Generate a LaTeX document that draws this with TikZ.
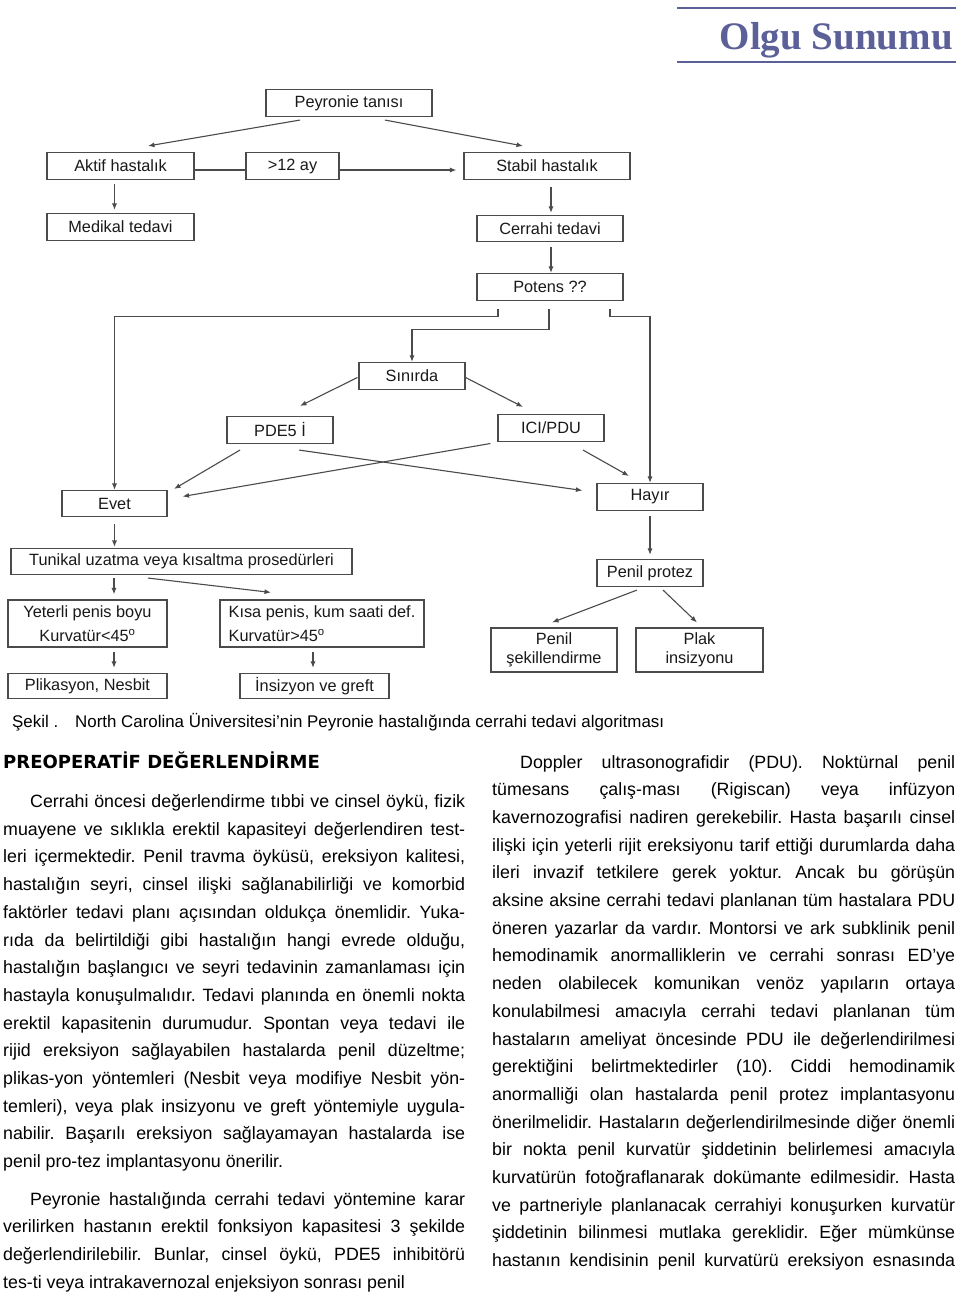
\documentclass[tikz,border=0pt]{standalone}
\usepackage{fontspec}
\setmainfont{Liberation Sans}
\newfontfamily\serifhead{Liberation Serif}
\newfontfamily\widebold{DejaVu Sans}
\usetikzlibrary{calc,positioning,arrows.meta}

\definecolor{olgublue}{RGB}{92,96,152}
\definecolor{boxline}{RGB}{75,75,75}
\definecolor{boxink}{RGB}{25,25,25}

\tikzset{
  flowbox/.style={draw=boxline, line width=1.1pt, inner sep=0pt, minimum height=27pt, text=boxink, font=\fontsize{16.3}{24}\selectfont},
  arr/.style={draw=boxline, line width=1.1pt, -{Latex[length=6.5pt,width=5pt]}},
  link/.style={draw=boxline, line width=1.1pt},
  bodytext/.style={anchor=base west, inner sep=0pt, align=justify, font=\fontsize{17.8}{27.7}\selectfont}
}

\begin{document}
\frenchspacing
\begin{tikzpicture}[x=1pt,y=-1pt]
    \useasboundingbox (0,0) rectangle (960,1293);
    \fill[white] (0,0) rectangle (960,1293);

    % Header
    \draw[olgublue, line width=2.8pt] (677,8) -- (956,8);
    \draw[olgublue, line width=2.8pt] (677,62) -- (956,62);
    \node[anchor=base east, inner sep=0pt, text=olgublue, font=\serifhead\bfseries\fontsize{39}{39}\selectfont] (olgu) at (953,49) {Olgu Sunumu};

    % Draw boxes
    \node[flowbox, minimum width=166pt] (peyronie) at (349,103) {Peyronie tanısı};
    \node[flowbox, minimum width=147pt] (aktif) at (120.5,166) {Aktif hastalık};
    \node[flowbox, minimum width=93pt] (ay) at (292.5,166) {>12 ay};
    \node[flowbox, minimum width=166pt] (stabil) at (547,166) {Stabil hastalık};
    \node[flowbox, minimum width=147pt] (medikal) at (120.5,227) {Medikal tedavi};
    \node[flowbox, minimum width=146pt, minimum height=26pt] (cerrahi) at (550,228.5) {Cerrahi tedavi};
    \node[flowbox, minimum width=146pt] (potens) at (550,287) {Potens ??};
    \node[flowbox, minimum width=106pt] (sinirda) at (412,376) {Sınırda};
    \node[flowbox, minimum width=106pt] (pde) at (280,430) {PDE5 İ};
    \node[flowbox, minimum width=106pt] (ici) at (551,428) {ICI/PDU};
    \node[flowbox, minimum width=105pt, minimum height=26pt] (evet) at (114.5,503.5) {Evet};
    \node[flowbox, minimum width=106pt] (hayir) at (650,497) {Hayır};
    \node[flowbox, minimum width=341pt, minimum height=26pt] (tunikal) at (181.5,561.5) {Tunikal uzatma veya kısaltma prosedürleri};
    \node[flowbox, minimum width=159pt, minimum height=47pt, align=center] (yeterli) at (87.5,623.5) {Yeterli penis boyu\\Kurvatür<45\textsuperscript{o}};
    \node[flowbox, minimum width=204pt, minimum height=47pt, align=left] (kisa) at (322,623.5) {Kısa penis, kum saati def.\\Kurvatür>45\textsuperscript{o}};
    \node[flowbox, minimum width=159pt, minimum height=25pt] (plikasyon) at (87.5,686) {Plikasyon, Nesbit};
    \node[flowbox, minimum width=149pt, minimum height=25pt] (insizyon) at (314.5,686) {İnsizyon ve greft};
    \node[flowbox, minimum width=106pt] (protez) at (650,573) {Penil protez};
    \node[flowbox, minimum width=126pt, minimum height=44pt, align=center, font=\fontsize{16.3}{19}\selectfont] (sekillendirme) at (554,650) {Penil\\şekillendirme};
    \node[flowbox, minimum width=127pt, minimum height=44pt, align=center, font=\fontsize{16.3}{19}\selectfont] (plak) at (699.5,650) {Plak\\insizyonu};

    % Draw arrows
    \draw[arr] ($(peyronie.south)+(-49,3)$) -- ($(aktif.north)+(27.5,-6)$);
    \draw[arr] ($(peyronie.south)+(36,3)$) -- ($(stabil.north)+(-24,-6)$);
    \draw[link] ($(aktif.east)+(0,4)$) -- ($(ay.west)+(0,4)$);
    \draw[arr] ($(ay.east)+(0,4)$) -- ($(stabil.west)+(-7,4)$);
    \draw[arr] ($(aktif.south)+(-6,4)$) -- ($(medikal.north)+(-6,-3)$);
    \draw[arr] ($(stabil.south)+(4,7)$) -- ($(cerrahi.north)+(1,-2)$);
    \draw[arr] ($(cerrahi.south)+(1,5)$) -- ($(potens.north)+(1,0)$);

    % Potens branches
    \draw[arr] ($(potens.south)+(-52,8)$) -- ++(0,7) -| (evet.north);
    \draw[arr] ($(potens.south)+(-1,8)$) -- ++(0,20) -| (sinirda.north);
    \draw[arr] ($(potens.south)+(60,8)$) -- ++(0,7) -| (hayir.north);

    \draw[arr] ($(sinirda.west)+(-1,1.5)$) -- ($(pde.north)+(20,-10)$);
    \draw[arr] ($(sinirda.east)+(0,1.5)$) -- ($(ici.north)+(-28,-7)$);
    \draw[arr] ($(pde.south)+(-40,6)$) -- ($(evet.north)+(59.5,-1)$);
    \draw[arr] ($(pde.south)+(19,6)$) -- ($(hayir.west)+(-14,-6.5)$);
    \draw[arr] ($(ici.west)+(-7,15.5)$) -- ($(evet.east)+(15,-7)$);
    \draw[arr] ($(ici.south)+(32,8)$) -- ($(hayir.north)+(-21,-7)$);
    \draw[arr] ($(evet.south)+(0,7)$) -- ($(tunikal.north)+(-67,-1)$);
    \draw[arr] ($(hayir.south)+(0,5)$) -- ($(protez.north)+(0,-4)$);
    \draw[arr] ($(tunikal.south)+(-67.5,3)$) -- ($(yeterli.north)+(26.5,-5)$);
    \draw[arr] ($(tunikal.south)+(-33.5,3)$) -- ($(kisa.north)+(-51,-7)$);
    \draw[arr] ($(yeterli.south)+(26.5,4)$) -- ($(plikasyon.north)+(26.5,-5)$);
    \draw[arr] ($(kisa.south)+(-9,4)$) -- ($(insizyon.north)+(-1.5,-5)$);
    \draw[arr] ($(protez.south)+(-13,3)$) -- ($(sekillendirme.north)+(-2,-5)$);
    \draw[arr] ($(protez.south)+(13,3)$) -- ($(plak.north)+(-2.5,-5)$);

    % Caption
    \node[anchor=base west, inner sep=0pt, font=\fontsize{16.9}{20}\selectfont] (caption) at (12,727) {Şekil .\hspace{17pt}North Carolina Üniversitesi’nin Peyronie hastalığında cerrahi tedavi algoritması};

    % Text columns
    \node[anchor=base west, inner sep=0pt, font=\widebold\bfseries\fontsize{18}{20}\selectfont] (heading) at (3,768) {PREOPERATİF DEĞERLENDİRME};

    \node[bodytext, text width=462pt] (leftone) at (3,807.5) {\hyphenpenalty=10000\exhyphenpenalty=10000\tolerance=9999%
\hspace*{27pt}Cerrahi öncesi değerlendirme tıbbi ve cinsel öykü, fizik\linebreak
muayene ve sıklıkla erektil kapasiteyi değerlendiren test-\linebreak
leri içermektedir. Penil travma öyküsü, ereksiyon kalitesi,\linebreak
hastalığın seyri, cinsel ilişki sağlanabilirliği ve komorbid\linebreak
faktörler tedavi planı açısından oldukça önemlidir. Yuka-\linebreak
rıda da belirtildiği gibi hastalığın hangi evrede olduğu,\linebreak
hastalığın başlangıcı ve seyri tedavinin zamanlaması için\linebreak
hastayla konuşulmalıdır. Tedavi planında en önemli nokta\linebreak
erektil kapasitenin durumudur. Spontan veya tedavi ile\linebreak
rijid ereksiyon sağlayabilen hastalarda penil düzeltme;\linebreak
plikas-yon yöntemleri (Nesbit veya modifiye Nesbit yön-\linebreak
temleri), veya plak insizyonu ve greft yöntemiyle uygula-\linebreak
nabilir. Başarılı ereksiyon sağlayamayan hastalarda ise\linebreak
penil pro-tez implantasyonu önerilir.};

    \node[bodytext, text width=462pt] (lefttwo) at (3,1205) {\hyphenpenalty=10000\exhyphenpenalty=10000\tolerance=9999%
\hspace*{27pt}Peyronie hastalığında cerrahi tedavi yöntemine karar\linebreak
verilirken hastanın erektil fonksiyon kapasitesi 3 şekilde\linebreak
değerlendirilebilir. Bunlar, cinsel öykü, PDE5 inhibitörü\linebreak
tes-ti veya intrakavernozal enjeksiyon sonrası penil};

    \node[bodytext, text width=463pt] (right) at (492,768) {\hyphenpenalty=10000\exhyphenpenalty=10000\tolerance=9999%
\hspace*{28pt}Doppler ultrasonografidir (PDU). Noktürnal penil\linebreak
tümesans çalış-ması (Rigiscan) veya infüzyon\linebreak
kavernozografisi nadiren gerekebilir. Hasta başarılı cinsel\linebreak
ilişki için yeterli rijit ereksiyonu tarif ettiği durumlarda daha\linebreak
ileri invazif tetkilere gerek yoktur. Ancak bu görüşün\linebreak
aksine aksine cerrahi tedavi planlanan tüm hastalara PDU\linebreak
öneren yazarlar da vardır. Montorsi ve ark subklinik penil\linebreak
hemodinamik anormalliklerin ve cerrahi sonrası ED’ye\linebreak
neden olabilecek komunikan venöz yapıların ortaya\linebreak
konulabilmesi amacıyla cerrahi tedavi planlanan tüm\linebreak
hastaların ameliyat öncesinde PDU ile değerlendirilmesi\linebreak
gerektiğini belirtmektedirler (10). Ciddi hemodinamik\linebreak
anormalliği olan hastalarda penil protez implantasyonu\linebreak
önerilmelidir. Hastaların değerlendirilmesinde diğer önemli\linebreak
bir nokta penil kurvatür şiddetinin belirlemesi amacıyla\linebreak
kurvatürün fotoğraflanarak dokümante edilmesidir. Hasta\linebreak
ve partneriyle planlanacak cerrahiyi konuşurken kurvatür\linebreak
şiddetinin bilinmesi mutlaka gereklidir. Eğer mümkünse\linebreak
hastanın kendisinin penil kurvatürü ereksiyon esnasında\hskip 0pt plus -1fil\null};
\end{tikzpicture}
\end{document}
